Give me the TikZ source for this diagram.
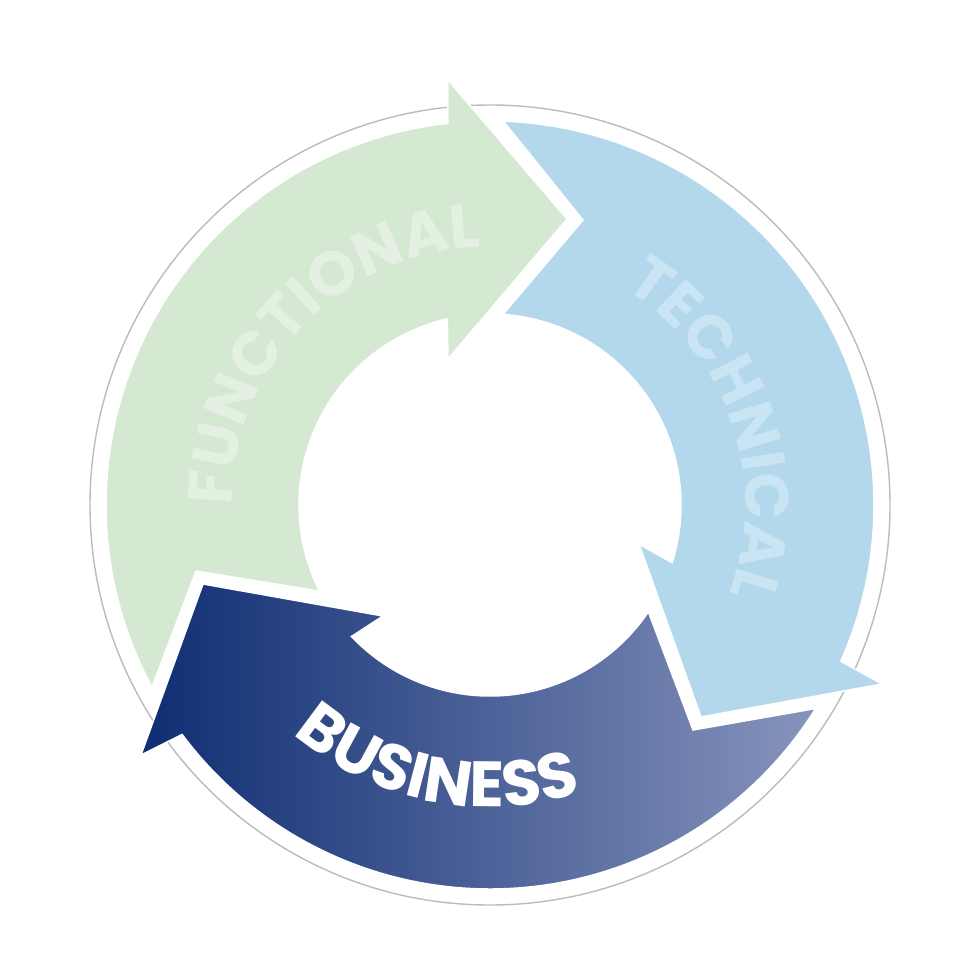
\documentclass[tikz,border=0pt]{standalone}
\usepackage{fontspec}
\newfontfamily\pop{Poppins}
\usetikzlibrary{calc,decorations.text}
\definecolor{grn}{HTML}{D5E8D2}
\definecolor{grntx}{HTML}{E4F0E1}
\definecolor{blu}{HTML}{B3D8EC}
\definecolor{blutx}{HTML}{C9E4F2}
\definecolor{bA}{HTML}{0E2D72}
\definecolor{bB}{HTML}{8794BC}
\definecolor{ring}{HTML}{BBBBBB}
\tikzset{
  seg/.style={draw=white,line width=1.5pt},
  lbl/.style={decorate,decoration={text along path,text align=center,text color=#1}}
}
\begin{document}
\begin{tikzpicture}[x=1pt,y=-1pt]
\useasboundingbox (0,0) rectangle (960,960);
\coordinate (C) at (490,505);
\draw[ring,line width=1.4pt] (C) circle[radius=400];
% green (functional)
\path[seg,fill=grn] (152,687) -- (196,571) -- ($(C)+(153.2:191)$)
  arc[start angle=153.2,end angle=257.1,radius=191]
  -- (448,359) -- (567,219) -- (448,80) -- ($(C)+(263.7:384)$)
  arc[start angle=263.7,end angle=151.7,radius=384] -- cycle;
% blue (technical)
\path[seg,fill=blu] ($(C)+(-88:384)$)
  arc[start angle=-88,end angle=24,radius=384]
  -- (882,684) -- (701,717) -- (639,544) -- ($(C)+(17.6:191)$)
  arc[start angle=17.6,end angle=-86.1,radius=191] -- (583,220) -- cycle;
% business
\path[seg,left color=bA,right color=bB] ($(C)+(32:384)$)
  arc[start angle=32,end angle=143.3,radius=384]
  -- (141,755) -- (203,584) -- (383,616) -- ($(C)+(136.5:191)$)
  arc[start angle=136.5,end angle=34,radius=191] -- (693,730) -- cycle;
% labels
\path[lbl=grntx,decoration={text={|\pop\bfseries\fontsize{62}{62}\selectfont|FUNCTIONAL}}]
  ($(C)+(164:258)$) arc[start angle=164,end angle=284,radius=258];
\path[lbl=blutx,decoration={text={|\pop\bfseries\fontsize{62}{62}\selectfont|TECHNICAL}}]
  ($(C)+(-78:255)$) arc[start angle=-78,end angle=40,radius=255];
\path[lbl=white,decoration={text={|\pop\bfseries\fontsize{64}{64}\selectfont|BUSINESS}}]
  ($(C)+(148:302)$) arc[start angle=148,end angle=55,radius=302];
\end{tikzpicture}
\end{document}
